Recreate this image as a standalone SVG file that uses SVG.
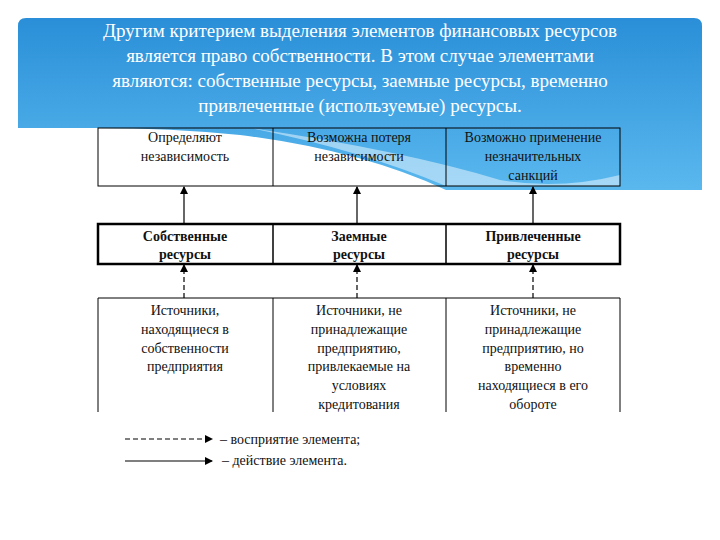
<svg xmlns="http://www.w3.org/2000/svg" width="720" height="540" viewBox="0 0 720 540" font-family="'Liberation Serif', 'DejaVu Serif', 'Times New Roman', serif">
<defs>
<linearGradient id="bg" x1="0" y1="0" x2="0" y2="1"><stop offset="0" stop-color="#2a8fd8"/><stop offset="1" stop-color="#5ab8ee"/></linearGradient>
<marker id="ah" markerWidth="8" markerHeight="8" refX="7" refY="4" orient="auto" markerUnits="userSpaceOnUse"><path d="M0,0 L8,4 L0,8 z" fill="#000"/></marker>
</defs>
<style>
text{font-family:'Liberation Serif','DejaVu Serif',serif}
.t{font-size:14px;fill:#111;text-anchor:middle}
.b{font-weight:bold}
.h{font-size:19px;fill:#fff;text-anchor:middle}
.box{fill:none;stroke:#000;stroke-width:1}
</style>
<rect width="720" height="540" fill="#fff"/>
<path d="M18,26 Q18,18 26,18 L694,18 Q702,18 702,26 L702,190 L446,190 Q360,150 240,135 Q170,128 98,128 L18,128 z" fill="url(#bg)"/>
<path d="M250,128 Q400,150 500,180 Q560,190 620,175 L620,186 L446,186 Q360,150 250,128z" fill="#d8eefb" opacity="0.6"/>
<g id="title">
<text class="h" x="360" y="37">Другим критерием выделения элементов финансовых ресурсов</text>
<text class="h" x="360" y="62">является право собственности. В этом случае элементами</text>
<text class="h" x="360" y="87">являются: собственные ресурсы, заемные ресурсы, временно</text>
<text class="h" x="360" y="112">привлеченные (используемые) ресурсы.</text>
</g>
<g id="top">
<rect class="box" x="98" y="128" width="522" height="58"/>
<line class="box" x1="273" y1="128" x2="273" y2="186"/><line class="box" x1="446" y1="128" x2="446" y2="186"/>
<text class="t" x="185" y="142">Определяют</text><text class="t" x="185" y="161">независимость</text>
<text class="t" x="359" y="142">Возможна потеря</text><text class="t" x="359" y="161">независимости</text>
<text class="t" x="533" y="142">Возможно применение</text><text class="t" x="533" y="161">незначительных</text><text class="t" x="533" y="180">санкций</text>
</g>
<g id="mid">
<rect x="98" y="224" width="522" height="40" fill="#fff" stroke="#000" stroke-width="2.5"/>
<line x1="273" y1="224" x2="273" y2="264" stroke="#000" stroke-width="1.5"/><line x1="446" y1="224" x2="446" y2="264" stroke="#000" stroke-width="1.5"/>
<text class="t b" x="185" y="241">Собственные</text><text class="t b" x="185" y="259">ресурсы</text>
<text class="t b" x="359" y="241">Заемные</text><text class="t b" x="359" y="259">ресурсы</text>
<text class="t b" x="533" y="241">Привлеченные</text><text class="t b" x="533" y="259">ресурсы</text>
</g>
<g id="bottom">
<path class="box" d="M98,412 L98,298 L620,298 L620,412 M273,298 L273,412 M446,298 L446,412"/>
<text class="t" x="185" y="315">Источники,</text><text class="t" x="185" y="334">находящиеся в</text><text class="t" x="185" y="353">собственности</text><text class="t" x="185" y="371">предприятия</text>
<text class="t" x="359" y="315">Источники, не</text><text class="t" x="359" y="334">принадлежащие</text><text class="t" x="359" y="353">предприятию,</text><text class="t" x="359" y="371">привлекаемые на</text><text class="t" x="359" y="390">условиях</text><text class="t" x="359" y="409">кредитования</text>
<text class="t" x="533" y="315">Источники, не</text><text class="t" x="533" y="334">принадлежащие</text><text class="t" x="533" y="353">предприятию, но</text><text class="t" x="533" y="371">временно</text><text class="t" x="533" y="390">находящиеся в его</text><text class="t" x="533" y="409">обороте</text>
</g>
<g id="connectors" stroke="#000" stroke-width="1.2">
<line x1="184" y1="223" x2="184" y2="187" marker-end="url(#ah)"/>
<line x1="357" y1="223" x2="357" y2="187" marker-end="url(#ah)"/>
<line x1="533" y1="223" x2="533" y2="187" marker-end="url(#ah)"/>
<line x1="184" y1="298" x2="184" y2="265" stroke-dasharray="5,3" marker-end="url(#ah)"/>
<line x1="357" y1="298" x2="357" y2="265" stroke-dasharray="5,3" marker-end="url(#ah)"/>
<line x1="533" y1="298" x2="533" y2="265" stroke-dasharray="5,3" marker-end="url(#ah)"/>
<line x1="125" y1="439" x2="212" y2="439" stroke-dasharray="5,3" marker-end="url(#ah)"/>
<line x1="125" y1="461" x2="212" y2="461" marker-end="url(#ah)"/>
</g>
<g id="legend">
<text class="t" x="220" y="444" style="text-anchor:start">– восприятие элемента;</text>
<text class="t" x="222" y="465" style="text-anchor:start">– действие элемента.</text>
</g>
</svg>
